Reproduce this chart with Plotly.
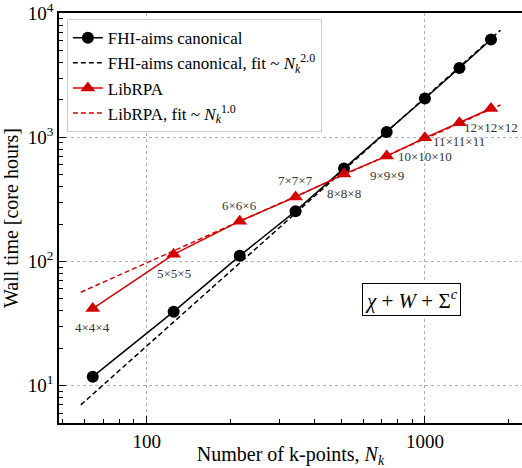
import numpy as np
import plotly.graph_objects as go

# ---- data ----
nk = [64, 125, 216, 343, 512, 729, 1000, 1331, 1728]
kgrid_labels = ["4×4×4", "5×5×5", "6×6×6", "7×7×7", "8×8×8", "9×9×9",
                "10×10×10", "11×11×11", "12×12×12"]
fhi_aims = [11.8, 39.4, 111, 254, 561, 1104, 2051, 3613, 6124]
librpa = [41.7, 114, 211, 331, 505, 705, 989, 1306, 1706]
fit_nk = [58, 1870]
fit_fhi = [7.0, 7280]
fit_librpa = [56.5, 1820]
label_above = [False, False, True, True, False, False, False, False, False]

x_major = [100, 1000]
x_major_text = ["100", "1000"]
x_minor = [50, 60, 70, 80, 90, 200, 300, 400, 500, 600, 700, 800, 900, 2000]
y_major = [10, 100, 1000, 10000]
y_major_text = ["10<sup>1</sup>", "10<sup>2</sup>", "10<sup>3</sup>", "10<sup>4</sup>"]
y_minor = [6, 7, 8, 9, 20, 30, 40, 50, 60, 70, 80, 90,
           200, 300, 400, 500, 600, 700, 800, 900,
           2000, 3000, 4000, 5000, 6000, 7000, 8000, 9000]

FONT = "Liberation Serif"
RED = "#d40000"

fig = go.Figure()
fig.add_trace(go.Scatter(
    x=nk, y=fhi_aims, mode="lines+markers", name="FHI-aims canonical",
    line=dict(color="black", width=1.5),
    marker=dict(symbol="circle", size=12, color="black")))
fig.add_trace(go.Scatter(
    x=fit_nk, y=fit_fhi, mode="lines",
    name="FHI-aims canonical, fit ~ <i>N<sub>k</sub></i><sup>2.0</sup>",
    line=dict(color="black", width=1.5, dash="5px,3px")))
fig.add_trace(go.Scatter(
    x=nk, y=librpa, mode="lines+markers", name="LibRPA",
    line=dict(color=RED, width=1.5),
    marker=dict(symbol="triangle-up", size=13, color=RED)))
fig.add_trace(go.Scatter(
    x=fit_nk, y=fit_librpa, mode="lines",
    name="LibRPA, fit ~ <i>N<sub>k</sub></i><sup>1.0</sup>",
    line=dict(color=RED, width=1.5, dash="5px,3px")))

for xv, yv, lab, above in zip(nk, librpa, kgrid_labels, label_above):
    fig.add_annotation(
        x=np.log10(xv), y=np.log10(yv), xref="x", yref="y", text=lab,
        showarrow=False, yshift=16 if above else -19,
        font=dict(family=FONT, size=13, color="#333333"))

fig.add_annotation(
    x=0.762, y=0.302, xref="paper", yref="paper",
    xanchor="center", yanchor="middle",
    text="<i>χ</i> + <i>W</i> + Σ<sup><i>c</i></sup>",
    showarrow=False, bgcolor="white", bordercolor="black", borderwidth=1,
    borderpad=2, font=dict(family=FONT, size=21, color="black"))

axis_common = dict(
    type="log", showline=True, linecolor="black", linewidth=1.5,
    ticks="inside", ticklen=7, tickwidth=1.2, tickcolor="black",
    showgrid=True, gridcolor="#b0b0b0", gridwidth=1, griddash="dot",
    zeroline=False, tickfont=dict(family=FONT, size=19, color="black"),
    ticklabeloverflow="allow",
)

fig.update_xaxes(
    **axis_common,
    mirror=True,
    range=[np.log10(48.4), np.log10(2234)],
    tickmode="array", tickvals=x_major, ticktext=x_major_text,
    minor=dict(tickmode="array", tickvals=x_minor, ticks="inside",
               ticklen=4, tickwidth=1, tickcolor="black", showgrid=False),
    title=dict(text="Number of k-points, <i>N<sub>k</sub></i>",
               font=dict(family=FONT, size=20, color="black"), standoff=2),
)
fig.update_yaxes(
    **axis_common,
    mirror=False,
    range=[np.log10(5), 4.0006],
    tickmode="array", tickvals=y_major, ticktext=y_major_text,
    minor=dict(tickmode="array", tickvals=y_minor, ticks="inside",
               ticklen=4, tickwidth=1, tickcolor="black", showgrid=False),
    title=dict(text="Wall time [core hours]",
               font=dict(family=FONT, size=20, color="black"), standoff=6),
)

fig.update_layout(
    width=522, height=468,
    margin=dict(l=59, r=0, t=13, b=45),
    plot_bgcolor="white", paper_bgcolor="white",
    font=dict(family=FONT, color="black"),
    legend=dict(x=0.017, y=0.985, xanchor="left", yanchor="top",
                bgcolor="rgba(255,255,255,0.85)", bordercolor="#cccccc",
                borderwidth=1, font=dict(family=FONT, size=17, color="black"),
                itemwidth=30, tracegroupgap=0),
    showlegend=True,
)

fig.write_html("out.html")
